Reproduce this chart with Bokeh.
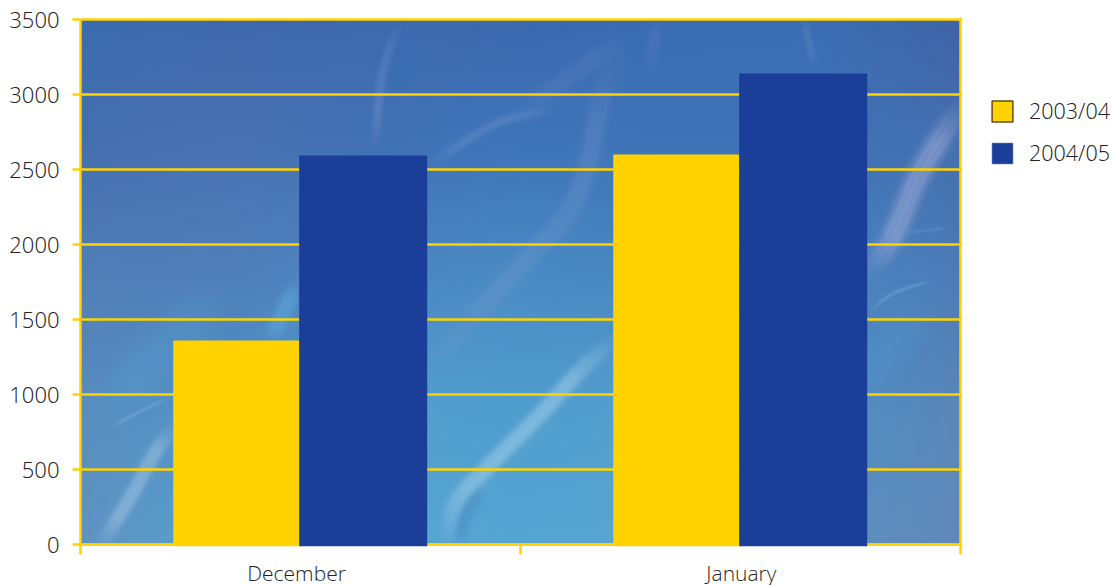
import numpy as np
from bokeh.embed import file_html
from bokeh.models import FixedTicker, Legend, LegendItem, Range1d, Span
from bokeh.plotting import figure
from bokeh.resources import INLINE

# Monthly values per season
months = ["December", "January"]
month_centres = [0.5, 1.5]
label_positions = [0.491, 1.502]
season_2003_04 = [1360, 2600]
season_2004_05 = [2593, 3140]
y_ticks = [0, 500, 1000, 1500, 2000, 2500, 3000, 3500]

YELLOW = "#FFD200"
NAVY = "#1B3F98"
TEXT = "#222222"
FONT = "Open Sans Light, Open Sans"

# Backdrop texture: a soft colour field with pale flowing strands (page pixels)
TEX_W, TEX_H = 880, 525
TEX_LEFT, TEX_TOP = 80, 19
field_rows = [
    ["#3B6BAF", "#3F68AD", "#3F69AE", "#3C68AE", "#3A6CB2", "#3B6DB3", "#3F64A8"],
    ["#4670B0", "#4A73B3", "#4272B6", "#3F76BA", "#3F74B8", "#3F74B8", "#4470B0"],
    ["#527FB8", "#5080BA", "#4D88C4", "#4A8CC4", "#4A88C2", "#4A86C2", "#4D7CB8"],
    ["#5A8DBF", "#4F95C9", "#55A0CF", "#4F9ECE", "#55A0CF", "#5090C6", "#5A87B9"],
    ["#6192C2", "#55A4D0", "#58A5D2", "#55A5D3", "#5AA5D2", "#5C90BF", "#6089BB"],
]
# (points, half width, colour, opacity)
strands = [
    ([(110, 400), (160, 350), (210, 305)], 24, (85, 160, 210), 0.28),
    ([(271, 336), (283, 310), (294, 286)], 9, (95, 170, 218), 0.5),
    ([(860, 378), (890, 342), (915, 312)], 22, (80, 150, 205), 0.32),
    ([(100, 544), (130, 495), (155, 450), (175, 425)], 8, (175, 205, 232), 0.42),
    ([(108, 427), (140, 410), (168, 396)], 2, (160, 205, 235), 0.22),
    ([(445, 544), (455, 502), (487, 466), (537, 416), (580, 369), (613, 339)], 9, (165, 208, 235), 0.5),
    ([(427, 366), (477, 312), (527, 256), (565, 215), (585, 170), (600, 100), (617, 45)], 11, (125, 155, 205), 0.26),
    ([(430, 162), (497, 122), (553, 109)], 5, (130, 160, 210), 0.28),
    ([(520, 110), (570, 75), (617, 39)], 10, (110, 140, 200), 0.2),
    ([(374, 146), (381, 76), (398, 22)], 5, (125, 150, 205), 0.34),
    ([(867, 269), (890, 239), (917, 176), (943, 132), (960, 106)], 12, (165, 175, 218), 0.5),
    ([(867, 312), (893, 292), (933, 279)], 2, (115, 190, 225), 0.35),
    ([(903, 232), (947, 227)], 2, (115, 180, 220), 0.22),
    ([(803, 20), (813, 63)], 4, (120, 145, 205), 0.25),
    ([(655, 20), (650, 70)], 7, (120, 145, 205), 0.15),
    ([(480, 488), (464, 518), (458, 544)], 7, (72, 125, 185), 0.3),
    ([(401, 40), (396, 80)], 18, (48, 110, 180), 0.28),
]


def hex_rgb(code):
    return [int(code[i:i + 2], 16) for i in (1, 3, 5)]


def smooth_path(pts):
    """Catmull-Rom path through the points, sampled about every two pixels."""
    pts = np.array(pts, dtype=float)
    ext = np.vstack([2 * pts[0] - pts[1], pts, 2 * pts[-1] - pts[-2]])
    out = []
    for i in range(1, len(ext) - 2):
        p0, p1, p2, p3 = ext[i - 1:i + 3]
        n = max(int(np.hypot(*(p2 - p1)) / 2), 2)
        for t in np.linspace(0, 1, n, endpoint=False):
            out.append(0.5 * (2 * p1 + (p2 - p0) * t + (2 * p0 - 5 * p1 + 4 * p2 - p3) * t ** 2
                              + (3 * p1 - p0 - 3 * p2 + p3) * t ** 3))
    out.append(pts[-1])
    return np.array(out)


def lay_strand(rgb, path, half, colour, opacity, xx, yy):
    seg = np.hypot(*np.diff(path, axis=0).T)
    along = np.concatenate([[0], np.cumsum(seg)])
    fade = np.clip(np.minimum(along, along[-1] - along) / (0.25 * along[-1]) + 0.05, 0, 1)
    pad = int(half * 2.5) + 2
    x0, x1 = max(int(path[:, 0].min()) - pad, 0), min(int(path[:, 0].max()) + pad, TEX_W)
    y0, y1 = max(int(path[:, 1].min()) - pad, 0), min(int(path[:, 1].max()) + pad, TEX_H)
    if x1 <= x0 or y1 <= y0:
        return
    sx, sy = xx[y0:y1, x0:x1], yy[y0:y1, x0:x1]
    cover = np.zeros_like(sx, dtype=float)
    for (qx, qy), f in zip(path, fade):
        d2 = ((sx - qx) ** 2 + (sy - qy) ** 2) / half ** 2
        cover = np.maximum(cover, f * np.exp(-d2 ** 1.5))
    alpha = (cover * opacity)[..., None]
    rgb[y0:y1, x0:x1] = rgb[y0:y1, x0:x1] * (1 - alpha) + np.array(colour, dtype=float) * alpha


def build_texture():
    grid = np.array([[hex_rgb(c) for c in row] for row in field_rows], dtype=float)
    xs = np.linspace(0, grid.shape[1] - 1, TEX_W)
    ys = np.linspace(0, grid.shape[0] - 1, TEX_H)
    by_row = np.stack([
        np.stack([np.interp(xs, np.arange(grid.shape[1]), grid[r, :, c]) for c in range(3)], axis=-1)
        for r in range(grid.shape[0])
    ])
    rgb = np.stack([
        np.stack([np.interp(ys, np.arange(grid.shape[0]), by_row[:, x, c]) for x in range(TEX_W)], axis=1)
        for c in range(3)
    ], axis=-1)

    yy, xx = np.mgrid[0:TEX_H, 0:TEX_W]
    for pts, half, colour, opacity in strands:
        path = smooth_path(pts) - [TEX_LEFT, TEX_TOP]
        lay_strand(rgb, path, half, colour, opacity, xx, yy)
        # fine fibres running along the wider pale strands
        if 8 <= half <= 12:
            tangent = np.gradient(path, axis=0)
            normal = np.column_stack([-tangent[:, 1], tangent[:, 0]])
            normal /= np.maximum(np.hypot(*normal.T), 1e-6)[:, None]
            for shift in (-0.5, 0.05, 0.55):
                lay_strand(rgb, path + normal * shift * half, half * 0.14, colour, opacity * 0.3, xx, yy)

    rgba = np.dstack([np.clip(rgb, 0, 255), np.full((TEX_H, TEX_W), 255.0)]).astype(np.uint8)
    packed = np.zeros((TEX_H, TEX_W), dtype=np.uint32)
    packed.view(dtype=np.uint8).reshape((TEX_H, TEX_W, 4))[:, :, :] = rgba
    return packed[::-1]


# Two spare pixels around the field keep the rules whole and let the bars pass the baseline
y_pad = 2 / 0.15
x_pad = 2 / 440
p = figure(
    frame_width=882, frame_height=529, output_backend="svg", toolbar_location=None,
    x_range=Range1d(0, 2 + x_pad), y_range=Range1d(-y_pad, 3500 + y_pad),
    min_border_left=80, min_border_right=150, min_border_top=17, min_border_bottom=39,
    background_fill_color=None, border_fill_color="white", outline_line_color=None,
)

p.image_rgba(image=[build_texture()], x=0, y=0, dw=2, dh=3500, level="image")

# Baseline and right edge run beneath the bars
p.add_layout(Span(location=0, dimension="width", line_color=YELLOW, line_width=2.5, level="underlay"))
p.add_layout(Span(location=2, dimension="height", line_color=YELLOW, line_width=2.5, level="underlay"))

p.vbar(x=[c - 0.146 for c in month_centres], top=season_2003_04, bottom=-y_pad, width=0.2865,
       color=YELLOW, line_width=0)
p.vbar(x=[c + 0.1425 for c in month_centres], top=season_2004_05, bottom=-y_pad, width=0.291,
       color=NAVY, line_width=0)

# Y axis and horizontal rules in gold
p.yaxis.ticker = FixedTicker(ticks=y_ticks, minor_ticks=[])
p.yaxis.bounds = (-y_pad, 3500)
p.yaxis.axis_line_color = YELLOW
p.yaxis.axis_line_width = 2.5
p.yaxis.major_tick_line_color = YELLOW
p.yaxis.major_tick_line_width = 2.5
p.yaxis.major_tick_in = 0
p.yaxis.major_tick_out = 8
p.yaxis.major_label_standoff = 13
p.yaxis.major_label_text_font = FONT
p.yaxis.major_label_text_font_size = "22px"
p.yaxis.major_label_text_color = TEXT

p.ygrid.ticker = FixedTicker(ticks=y_ticks, minor_ticks=[])
p.ygrid.grid_line_color = YELLOW
p.ygrid.grid_line_width = 2.5
p.xgrid.visible = False

# X axis: names sit mid-band, tick marks on the band edges
p.xaxis.ticker = FixedTicker(ticks=label_positions, minor_ticks=[0, 1, 2])
p.xaxis.major_label_overrides = {c: m for c, m in zip(label_positions, months)}
p.xaxis.axis_line_color = None
p.xaxis.major_tick_line_color = None
p.xaxis.major_tick_in = 0
p.xaxis.major_tick_out = 8
p.xaxis.minor_tick_line_color = YELLOW
p.xaxis.minor_tick_line_width = 2.5
p.xaxis.minor_tick_in = 2
p.xaxis.minor_tick_out = 8
p.xaxis.major_label_standoff = 4
p.xaxis.major_label_text_font = FONT
p.xaxis.major_label_text_font_size = "21px"
p.xaxis.major_label_text_color = TEXT

# Key in the right margin; its off-range swatches give the gold one a dark rim
key_first = p.vbar(x=[-9], top=[-9999], width=1, fill_color=YELLOW, line_color="#5E4D17", line_width=1.5)
key_second = p.vbar(x=[-9], top=[-9999], width=1, fill_color=NAVY, line_color="#3A5AA8", line_width=0.5)
legend = Legend(
    items=[LegendItem(label="2003/04", renderers=[key_first]),
           LegendItem(label="2004/05", renderers=[key_second])],
    location=(27, 379), orientation="vertical",
    glyph_width=26, glyph_height=26, label_height=21, label_standoff=14, spacing=13,
    padding=0, margin=0, background_fill_alpha=0, border_line_color=None,
    label_text_font=FONT, label_text_font_size="21.5px", label_text_color=TEXT,
)
p.add_layout(legend, "right")

open("out.html", "w").write(file_html(p, INLINE))
